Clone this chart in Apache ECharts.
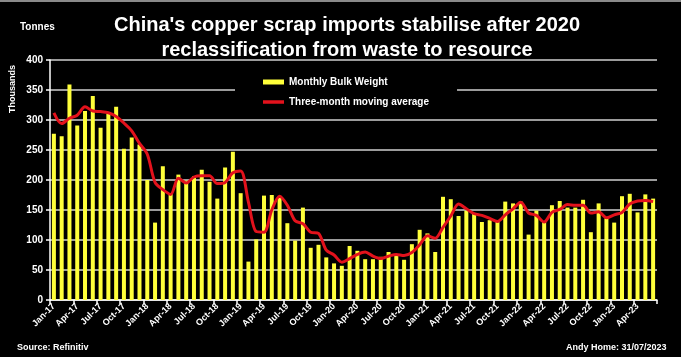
<!DOCTYPE html>
<html>
<head>
<meta charset="utf-8">
<script src="https://cdn.jsdelivr.net/npm/echarts@6/dist/echarts.min.js"></script>
<style>
html,body{margin:0;padding:0;background:#000;}
#chart{width:681px;height:357px;}
</style>
</head>
<body>
<div id="chart"></div>
<script>
var categories = [
  'Jan-17','Feb-17','Mar-17','Apr-17','May-17','Jun-17','Jul-17','Aug-17','Sep-17','Oct-17','Nov-17','Dec-17',
  'Jan-18','Feb-18','Mar-18','Apr-18','May-18','Jun-18','Jul-18','Aug-18','Sep-18','Oct-18','Nov-18','Dec-18',
  'Jan-19','Feb-19','Mar-19','Apr-19','May-19','Jun-19','Jul-19','Aug-19','Sep-19','Oct-19','Nov-19','Dec-19',
  'Jan-20','Feb-20','Mar-20','Apr-20','May-20','Jun-20','Jul-20','Aug-20','Sep-20','Oct-20','Nov-20','Dec-20',
  'Jan-21','Feb-21','Mar-21','Apr-21','May-21','Jun-21','Jul-21','Aug-21','Sep-21','Oct-21','Nov-21','Dec-21',
  'Jan-22','Feb-22','Mar-22','Apr-22','May-22','Jun-22','Jul-22','Aug-22','Sep-22','Oct-22','Nov-22','Dec-22',
  'Jan-23','Feb-23','Mar-23','Apr-23','May-23','Jun-23'
];

// Monthly bulk weight, thousand tonnes
var bulkWeight = [
  277,273,359,291,315,340,287,310,322,252,271,259,
  200,129,223,177,209,199,206,217,197,169,221,247,
  178,64,101,174,175,170,128,99,154,87,92,71,
  61,57,90,82,68,68,72,80,76,67,93,117,
  111,80,172,168,140,149,144,130,133,130,164,161,
  164,109,149,131,158,165,154,154,167,113,161,136,
  129,173,177,146,176,169
];

// Three-month moving average, thousand tonnes
var movingAverage = [
  312,294,303,308,322,315,314,312,306,295,282,261,
  243,196,184,176,203,195,205,207,207,194,196,212,
  215,163,114,113,150,173,158,132,127,113,111,83,
  75,63,69,76,80,73,69,73,76,74,79,92,
  107,103,121,140,160,152,144,141,136,131,142,152,
  163,145,141,130,146,151,159,158,158,145,147,137,
  142,146,160,165,166,164
];

var yTicks = { min: 0, max: 400, interval: 50 };
var titleLines = ["China's copper scrap imports stabilise after 2020", "reclassification from waste to resource"];
var seriesNames = ['Monthly Bulk Weight', 'Three-month moving average'];

var FONT = '"Liberation Sans", Arial, sans-serif';
var chart = echarts.init(document.getElementById('chart'), null, { renderer: 'canvas' });

chart.setOption({
  backgroundColor: '#000000',
  animation: false,
  textStyle: { fontFamily: FONT },
  title: {
    text: titleLines.join('\n'),
    left: 342,
    top: 8,
    textAlign: 'center',
    textStyle: {
      color: '#ffffff',
      fontFamily: FONT,
      fontWeight: 'bold',
      fontSize: 20,
      lineHeight: 25
    }
  },
  legend: {
    orient: 'vertical',
    left: 235,
    top: 70,
    padding: [7, 28, 7, 28],
    backgroundColor: '#000000',
    itemWidth: 21,
    itemHeight: 5,
    itemGap: 10,
    textStyle: { color: '#ffffff', fontSize: 10, fontWeight: 'bold', fontFamily: FONT },
    data: [
      { name: seriesNames[0], icon: 'rect' },
      { name: seriesNames[1], icon: 'path://M0,0 L21,0 L21,3.5 L0,3.5 Z' }
    ]
  },
  grid: { left: 50, right: 24, top: 60, bottom: 57, containLabel: false },
  xAxis: {
    type: 'category',
    data: categories,
    boundaryGap: true,
    axisLine: { show: true, lineStyle: { color: '#ffffff', width: 1.5 } },
    axisTick: { show: true, interval: 2, length: 4, lineStyle: { color: '#ffffff', width: 1.5 } },
    axisLabel: {
      interval: 2,
      rotate: 45,
      color: '#ffffff',
      fontSize: 9,
      fontWeight: 'bold',
      fontFamily: FONT,
      margin: 5
    },
    splitLine: { show: false }
  },
  yAxis: {
    type: 'value',
    min: yTicks.min,
    max: yTicks.max,
    interval: yTicks.interval,
    axisLine: { show: true, lineStyle: { color: '#ffffff', width: 1.5 } },
    axisTick: { show: true, length: 4, lineStyle: { color: '#ffffff', width: 1.5 } },
    axisLabel: { color: '#ffffff', fontSize: 10, fontWeight: 'bold', fontFamily: FONT, margin: 7 },
    splitLine: { show: true, lineStyle: { color: '#cfcfcf', width: 1.5 } }
  },
  series: [
    {
      name: seriesNames[0],
      type: 'bar',
      data: bulkWeight,
      barWidth: 4,
      itemStyle: { color: '#ffff3a' },
      z: 2
    },
    {
      name: seriesNames[1],
      type: 'line',
      data: movingAverage,
      smooth: 0.3,
      symbol: 'none',
      lineStyle: { color: '#e3121c', width: 3 },
      itemStyle: { color: '#e3121c' },
      z: 3
    }
  ],
  graphic: [
    { type: 'rect', shape: { x: 0, y: 0, width: 681, height: 2 }, style: { fill: '#8a8a8a' }, silent: true },
    { type: 'text', left: 20, top: 22, style: { text: 'Tonnes', fill: '#ffffff', font: 'bold 10px ' + FONT } },
    { type: 'text', x: 13, y: 89, rotation: Math.PI / 2,
      style: { text: 'Thousands', fill: '#ffffff', font: 'bold 9px ' + FONT, align: 'center', verticalAlign: 'middle' } },
    { type: 'text', left: 17, top: 343, style: { text: 'Source: Refinitiv', fill: '#ffffff', font: 'bold 9px ' + FONT } },
    { type: 'text', left: 566, top: 343, style: { text: 'Andy Home: 31/07/2023', fill: '#ffffff', font: 'bold 9px ' + FONT } }
  ]
});
</script>
</body>
</html>
